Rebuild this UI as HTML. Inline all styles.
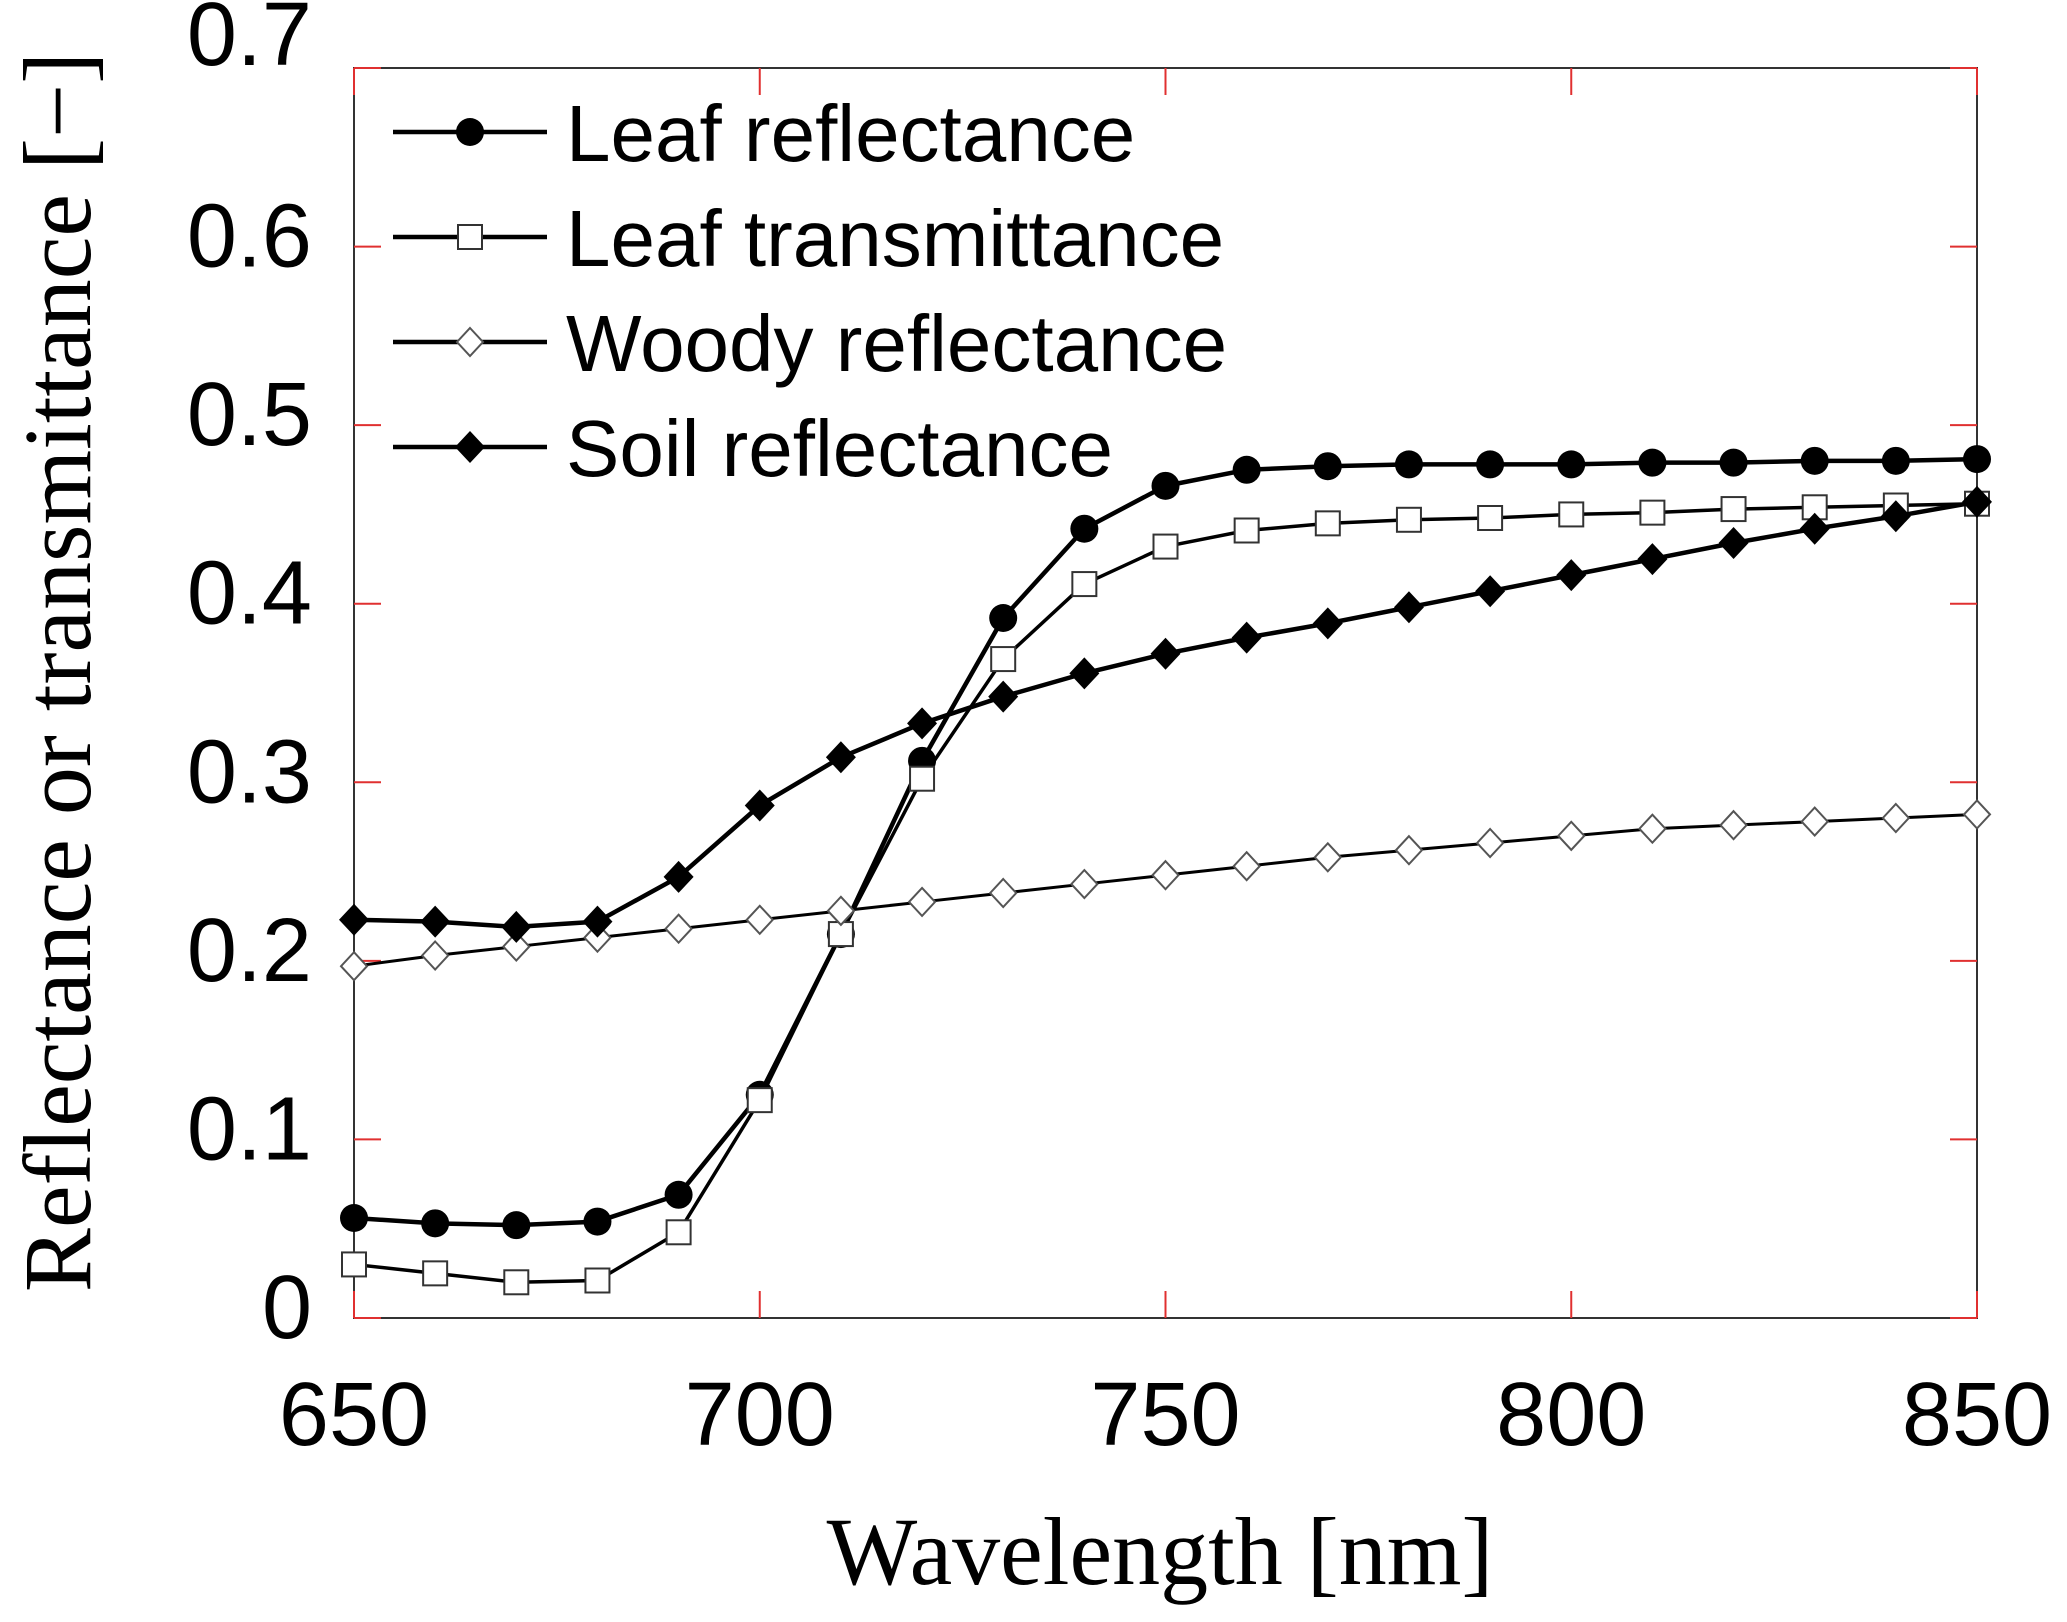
<!DOCTYPE html>
<html><head><meta charset="utf-8">
<style>
html,body{margin:0;padding:0;background:#fff;}
svg{display:block;}
.tick{font-family:"Liberation Sans",sans-serif;font-size:90px;fill:#000;}
.leg{font-family:"Liberation Sans",sans-serif;font-size:80px;fill:#000;}
.title{font-family:"Liberation Serif",serif;font-size:96px;fill:#000;}
</style></head>
<body>
<svg id="chart" width="2067" height="1622" viewBox="0 0 2067 1622" xmlns="http://www.w3.org/2000/svg">
<g id="plot"></g>
</svg>
<script>
const wavelengths=[650,660,670,680,690,700,710,720,730,740,750,760,770,780,790,800,810,820,830,840,850];
const leafRefl=[0.056,0.053,0.052,0.054,0.069,0.125,0.215,0.312,0.392,0.442,0.466,0.475,0.477,0.478,0.478,0.478,0.479,0.479,0.480,0.480,0.481];
const leafTrans=[0.030,0.025,0.020,0.021,0.048,0.122,0.215,0.302,0.369,0.411,0.432,0.441,0.445,0.447,0.448,0.450,0.451,0.453,0.454,0.455,0.456];
const woodyRefl=[0.197,0.203,0.208,0.213,0.218,0.223,0.228,0.233,0.238,0.243,0.248,0.253,0.258,0.262,0.266,0.270,0.274,0.276,0.278,0.280,0.282];
const soilRefl=[0.223,0.222,0.219,0.222,0.247,0.287,0.314,0.333,0.348,0.361,0.372,0.381,0.389,0.398,0.407,0.416,0.425,0.434,0.442,0.449,0.457];
const xTicks=[650,700,750,800,850];
const yTicks=[0,0.1,0.2,0.3,0.4,0.5,0.6,0.7];
const yTickLabels=["0","0.1","0.2","0.3","0.4","0.5","0.6","0.7"];
const legendLabels=["Leaf reflectance","Leaf transmittance","Woody reflectance","Soil reflectance"];

const L=354,R=1977,T=68,B=1318;
const X=v=>L+(v-650)/(850-650)*(R-L);
const Y=v=>B-(v-0)/(0.7-0)*(B-T);
const NS="http://www.w3.org/2000/svg";
const svg=document.getElementById('chart');
function mk(tag,attrs,parent){const e=document.createElementNS(NS,tag);for(const k in attrs)e.setAttribute(k,attrs[k]);(parent||svg).appendChild(e);return e;}

let fr=mk('rect',{x:L,y:T,width:R-L,height:B-T,fill:'none',stroke:'#333','stroke-width':2});



xTicks.forEach(t=>{
  const x=X(t);
  let a=mk('line',{x1:x,x2:x,y1:B,y2:B-27,stroke:'#e03030','stroke-width':2});
  
  
  let b=mk('line',{x1:x,x2:x,y1:T,y2:T+27,stroke:'#e03030','stroke-width':2});
  
  
  let tx=mk('text',{x:x,y:1445,'text-anchor':'middle',class:'tick'});
  tx.textContent=t;
  
  
});
yTicks.forEach((t,i)=>{
  const y=Y(t);
  let a=mk('line',{x1:L,x2:L+27,y1:y,y2:y,stroke:'#e03030','stroke-width':2});
  
  
  let b=mk('line',{x1:R,x2:R-27,y1:y,y2:y,stroke:'#e03030','stroke-width':2});
  
  
  const ly=(i===yTicks.length-1)?65:y+20;
  let tx=mk('text',{x:312,y:ly,'text-anchor':'end',class:'tick'});
  tx.textContent=yTickLabels[i];
  
  
});

function marker(kind,x,y,parent){
  let m;
  if(kind==='circle') m=mk('circle',{cx:x,cy:y,r:14,fill:'#000'},parent);
  else if(kind==='square') m=mk('rect',{x:x-12,y:y-12,width:24,height:24,fill:'#fff',stroke:'#333','stroke-width':2},parent);
  else if(kind==='odiamond') m=mk('polygon',{points:`${x},${y-14} ${x+13},${y} ${x},${y+14} ${x-13},${y}`,fill:'#fff',stroke:'#555','stroke-width':2},parent);
  else m=mk('polygon',{points:`${x},${y-16} ${x+15},${y} ${x},${y+16} ${x-15},${y}`,fill:'#000'},parent);
  return m;
}
const series=[[leafRefl,'circle',4.5],[leafTrans,'square',3.5],[woodyRefl,'odiamond',3],[soilRefl,'diamond',4.5]];
const names=['leaf-reflectance','leaf-transmittance','woody-reflectance','soil-reflectance'];
series.forEach((s,si)=>{
  const g=mk('g',{});
  
  
  const pts=wavelengths.map((w,i)=>X(w)+','+Y(s[0][i])).join(' ');
  let pl=mk('polyline',{points:pts,fill:'none',stroke:'#000','stroke-width':s[2],'stroke-linejoin':'round'},g);
  
  
  wavelengths.forEach((w,i)=>{
    const m=marker(s[1],X(w),Y(s[0][i]),g);
    
    
  });
});

legendLabels.forEach((lab,i)=>{
  const y=132+i*105;
  const g=mk('g',{});
  
  
  mk('line',{x1:393,x2:547,y1:y,y2:y,stroke:'#000','stroke-width':4.5},g);
  marker(series[i][1],470,y,g);
  const t=mk('text',{x:566,y:y+29,class:'leg'},g);
  t.textContent=lab;
});

let xt=mk('text',{x:1160,y:1584,'text-anchor':'middle',class:'title'});
xt.textContent='Wavelength [nm]';


let yt=mk('text',{x:0,y:0,'text-anchor':'middle',class:'title',transform:'translate(90,672) rotate(-90)'});
yt.textContent='Reflectance or transmittance [\u2212]';


</script>
</body></html>
